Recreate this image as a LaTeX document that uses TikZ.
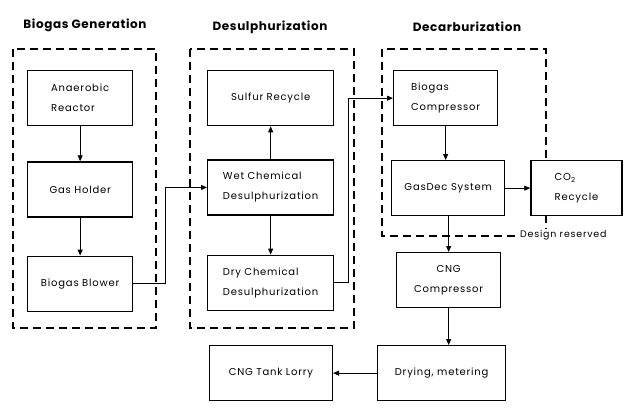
\documentclass[tikz,border=0pt]{standalone}
\usepackage{fontspec}
\setmainfont{Poppins}
\newfontfamily\boxfont[LetterSpace=8]{Poppins}
\newfontfamily\titlefont[LetterSpace=5]{Poppins}
\usetikzlibrary{positioning,arrows.meta}

\begin{document}
\begin{tikzpicture}[x=1pt,y=-1pt,
node distance=35pt,
blk/.style={draw, line width=1.3pt, minimum height=55pt, align=left, fill=white, font=\boxfont\fontsize{10}{20}\selectfont},
stage/.style={line width=2.2pt, dash pattern=on 8pt off 5pt},
title/.style={font=\titlefont\fontsize{12}{14}\selectfont\bfseries},
arrow/.style={-{Triangle[length=6pt,width=5pt]}, line width=0.8pt}
]
\useasboundingbox (0,0) rectangle (629,413);

% stage frames
\draw[stage] (13,49) rectangle (156,328);
\draw[stage] (190,49) rectangle (354,328);
\draw[stage] (382,49) rectangle (546,236);

\node[title] (gen) at (85,25) {Biogas Generation};
\node[title] (desul) at (270,27) {Desulphurization};
\node[title] (decarb) at (467,27) {Decarburization};

% biogas generation
\node[blk, minimum width=105pt, anchor=north west] (reactor) at (27,70) {Anaerobic\\Reactor};
\node[blk, minimum width=105pt, below=35pt of reactor] (holder) {Gas Holder};
\node[blk, minimum width=105pt, below=38pt of holder] (blower) {Biogas Blower};

% desulphurization
\node[blk, minimum width=126pt, anchor=north west] (sulfur) at (207,70) {Sulfur Recycle};
\node[blk, minimum width=126pt, below=33pt of sulfur] (wet) {Wet Chemical\\Desulphurization};
\node[blk, minimum width=126pt, below=39pt of wet] (dry) {Dry Chemical\\Desulphurization};

% decarburization
\node[blk, minimum width=104pt, anchor=north west] (bcomp) at (393,70) {Biogas\\Compressor};
\node[blk, minimum width=113pt, anchor=north west] (gasdec) at (391,160) {GasDec System};
\node[blk, minimum width=91pt, right=25pt of gasdec] (co2) {CO\textsubscript{2}\\Recycle};
\node[fill=white, inner sep=1pt, anchor=west, font=\boxfont\fontsize{9.5}{11}\selectfont] (design) at (519,235) {Design reserved};

% product
\node[blk, minimum width=104pt, anchor=north west, align=center] (cng) at (396,252) {CNG\\Compressor};
\node[blk, minimum width=128pt, anchor=north west] (drying) at (377,345) {Drying, metering};
\node[blk, minimum width=123pt, left=44pt of drying] (lorry) {CNG Tank Lorry};

\draw[arrow] (reactor) -- (holder);
\draw[arrow, line width=1.2pt] (holder) -- (blower);
\draw[arrow] (blower.east) -- ++(32,0) |- (wet.west);
\draw[arrow] (wet) -- (sulfur);
\draw[arrow] (wet) -- (dry);
\draw[arrow] (dry.east) -- ++(14,0) |- (bcomp.west);
\draw[arrow] (bcomp.south) -- (bcomp.south |- gasdec.north);
\draw[arrow] (gasdec) -- (co2);
\draw[arrow] (cng.north |- gasdec.south) -- (cng.north);
\draw[arrow] (cng.south) -- (cng.south |- drying.north);
\draw[arrow] (drying) -- (lorry);
\end{tikzpicture}
\end{document}
